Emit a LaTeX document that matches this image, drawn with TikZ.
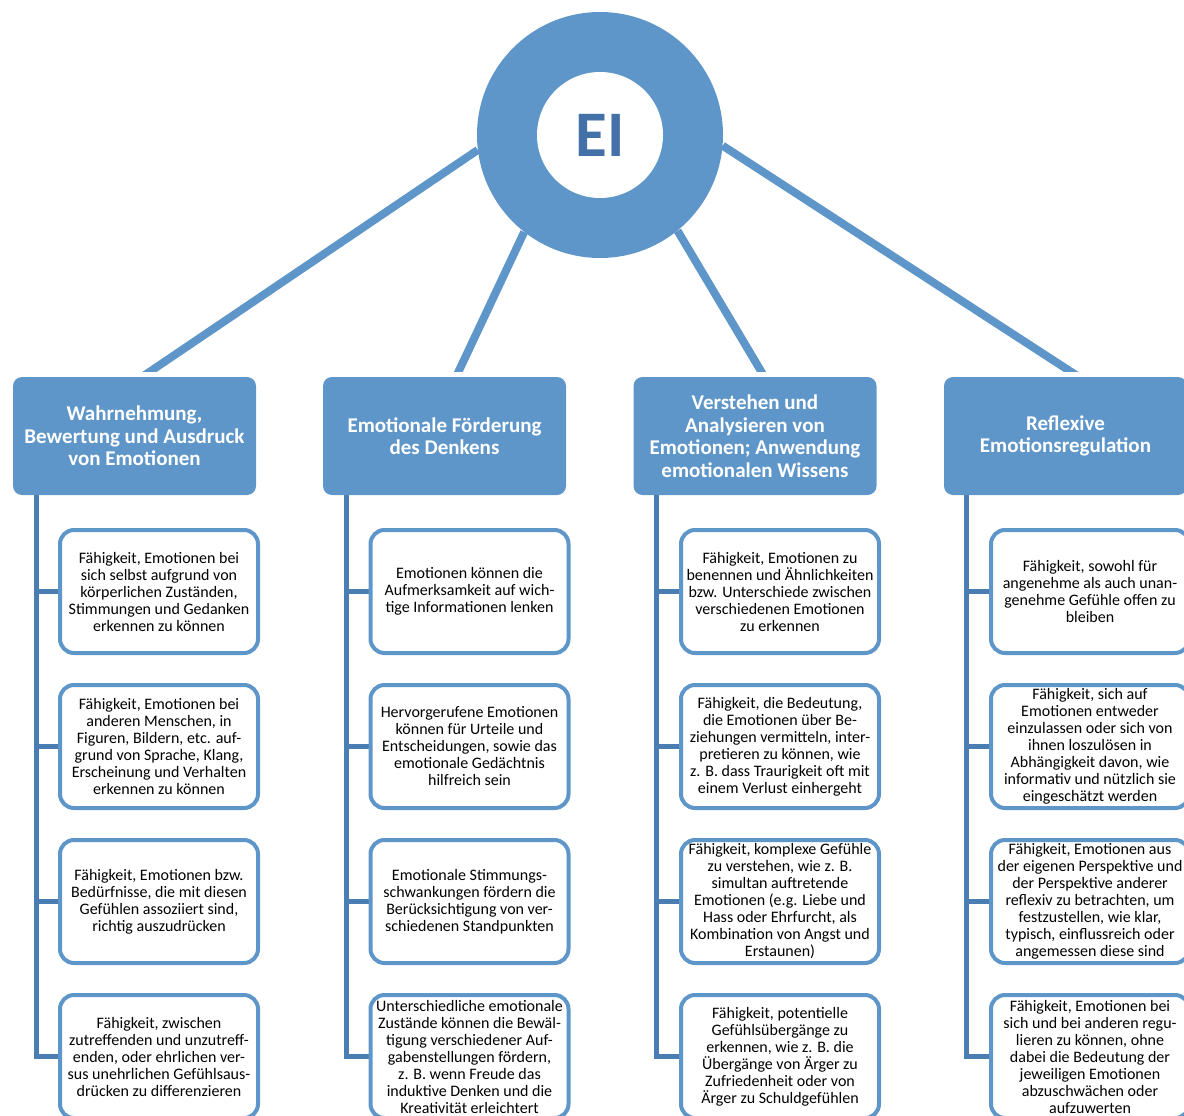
\documentclass[tikz,border=0pt]{standalone}
\usepackage{fontspec}
\setmainfont{Carlito}
\usetikzlibrary{backgrounds}
\definecolor{ringc}{HTML}{5F96C9}
\definecolor{trunkc}{HTML}{4A7DB1}
\definecolor{eitext}{HTML}{4470A8}
\begin{document}
\begin{tikzpicture}[x=1pt,y=-1pt,
  ring/.style={circle, fill=ringc, minimum size=246pt, inner sep=0pt},
  hub/.style={circle, fill=white, minimum size=126pt, inner sep=0pt, text=eitext, font=\fontsize{65}{65}\selectfont\bfseries},
  hdr/.style={rectangle, rounded corners=9pt, fill=ringc, minimum width=243pt, minimum height=118pt, inner sep=0pt, text=white, align=center, font=\fontsize{21}{22.5}\selectfont\bfseries},
  cbox/.style={rectangle, rounded corners=14pt, draw=ringc, line width=4pt, fill=white, minimum width=198pt, minimum height=123pt, inner sep=0pt, align=center, font=\fontsize{16}{17}\selectfont},
  spoke/.style={draw=ringc, line width=8pt},
  trunk/.style={draw=trunkc, line width=5pt}]
\useasboundingbox (0,0) rectangle (1184,1116);
\clip (0,0) rectangle (1184,1116);

% hub
\node[ring] (ei) at (600,135) {};
\node[hub] (eit) at (ei.center) {EI};

% headers
\node[hdr] (h1) at (134.5,436) {Wahrnehmung,\\Bewertung und Ausdruck\\von Emotionen};
\node[hdr] (h2) at (444.5,436) {Emotionale Förderung\\des Denkens};
\node[hdr] (h3) at (755,436) {Verstehen und\\Analysieren von\\Emotionen; Anwendung\\emotionalen Wissens};
\node[hdr] (h4) at (1065.5,436) {Reflexive\\Emotionsregulation};

% column 1
\node[cbox] (c11) at (159,591.5) {Fähigkeit, Emotionen bei\\sich selbst aufgrund von\\körperlichen Zuständen,\\Stimmungen und Gedanken\\erkennen zu können};
\node[cbox] (c12) at (159,746.5) {Fähigkeit, Emotionen bei\\anderen Menschen, in\\Figuren, Bildern, etc. auf-\\grund von Sprache, Klang,\\Erscheinung und Verhalten\\erkennen zu können};
\node[cbox] (c13) at (159,901.5) {Fähigkeit, Emotionen bzw.\\Bedürfnisse, die mit diesen\\Gefühlen assoziiert sind,\\richtig auszudrücken};
\node[cbox] (c14) at (159,1056.5) {Fähigkeit, zwischen\\zutreffenden und unzutreff-\\enden, oder ehrlichen ver-\\sus unehrlichen Gefühlsaus-\\drücken zu differenzieren};

% column 2
\node[cbox] (c21) at (469.5,591.5) {Emotionen können die\\Aufmerksamkeit auf wich-\\tige Informationen lenken};
\node[cbox] (c22) at (469.5,746.5) {Hervorgerufene Emotionen\\können für Urteile und\\Entscheidungen, sowie das\\emotionale Gedächtnis\\hilfreich sein};
\node[cbox] (c23) at (469.5,901.5) {Emotionale Stimmungs-\\schwankungen fördern die\\Berücksichtigung von ver-\\schiedenen Standpunkten};
\node[cbox] (c24) at (469.5,1056.5) {Unterschiedliche emotionale\\Zustände können die Bewäl-\\tigung verschiedener Auf-\\gabenstellungen fördern,\\z. B. wenn Freude das\\induktive Denken und die\\Kreativität erleichtert};

% column 3
\node[cbox] (c31) at (780,591.5) {Fähigkeit, Emotionen zu\\benennen und Ähnlichkeiten\\bzw. Unterschiede zwischen\\verschiedenen Emotionen\\zu erkennen};
\node[cbox] (c32) at (780,746.5) {Fähigkeit, die Bedeutung,\\die Emotionen über Be-\\ziehungen vermitteln, inter-\\pretieren zu können, wie\\z. B. dass Traurigkeit oft mit\\einem Verlust einhergeht};
\node[cbox] (c33) at (780,901.5) {Fähigkeit, komplexe Gefühle\\zu verstehen, wie z. B.\\simultan auftretende\\Emotionen (e.g. Liebe und\\Hass oder Ehrfurcht, als\\Kombination von Angst und\\Erstaunen)};
\node[cbox] (c34) at (780,1056.5) {Fähigkeit, potentielle\\Gefühlsübergänge zu\\erkennen, wie z. B. die\\Übergänge von Ärger zu\\Zufriedenheit oder von\\Ärger zu Schuldgefühlen};

% column 4
\node[cbox] (c41) at (1090,591.5) {Fähigkeit, sowohl für\\angenehme als auch unan-\\genehme Gefühle offen zu\\bleiben};
\node[cbox] (c42) at (1090,746.5) {Fähigkeit, sich auf\\Emotionen entweder\\einzulassen oder sich von\\ihnen loszulösen in\\Abhängigkeit davon, wie\\informativ und nützlich sie\\eingeschätzt werden};
\node[cbox] (c43) at (1090,901.5) {Fähigkeit, Emotionen aus\\der eigenen Perspektive und\\der Perspektive anderer\\reflexiv zu betrachten, um\\festzustellen, wie klar,\\typisch, einflussreich oder\\angemessen diese sind};
\node[cbox] (c44) at (1090,1056.5) {Fähigkeit, Emotionen bei\\sich und bei anderen regu-\\lieren zu können, ohne\\dabei die Bedeutung der\\jeweiligen Emotionen\\abzuschwächen oder\\aufzuwerten};

% connector end points
\coordinate (e1) at (142,377);
\coordinate (e2) at (456,377);
\coordinate (e3) at (764.5,377);
\coordinate (e4) at (1079,377);
\coordinate (t1) at (36,490);
\coordinate (t2) at (346,490);
\coordinate (t3) at (656,490);
\coordinate (t4) at (966,490);

\begin{scope}[on background layer]
  \begin{scope}
    \clip (0,0) rectangle (1184,371);
    \draw[spoke] (ei.187) -- (e1);
    \draw[spoke] (ei.232.6) -- (e2);
    \draw[spoke] (ei.309.4) -- (e3);
    \draw[spoke] (ei.355) -- (e4);
  \end{scope}
  \foreach \c in {1,2,3,4}{
    \draw[trunk] (t\c) |- (c\c4.west);
    \draw[trunk] (t\c |- c\c1.west) -- (c\c1.west);
    \draw[trunk] (t\c |- c\c2.west) -- (c\c2.west);
    \draw[trunk] (t\c |- c\c3.west) -- (c\c3.west);
  }
\end{scope}
\end{tikzpicture}
\end{document}
